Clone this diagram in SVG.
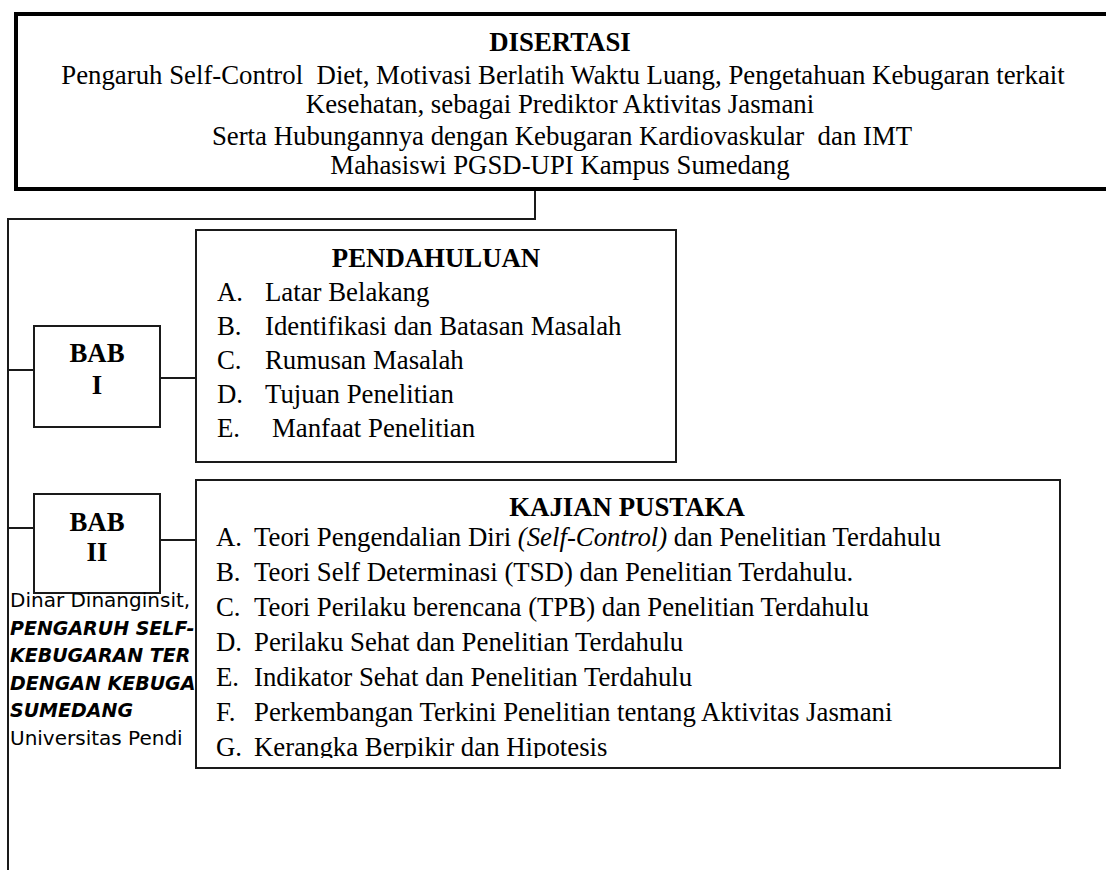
<svg xmlns="http://www.w3.org/2000/svg" width="1106" height="870" viewBox="0 0 1106 870">
<style>
.s{font-family:"Liberation Serif","Times New Roman",serif;fill:#000;font-size:26.8px}
.b{font-weight:bold}
.o{font-family:"DejaVu Sans",Verdana,sans-serif;font-size:20px;fill:#000}
.bi{font-weight:bold;font-style:italic;font-size:19px}
.box{fill:#fff;stroke:#1a1a1a;stroke-width:2}
.ln{fill:none;stroke:#1a1a1a;stroke-width:2}
</style>
<defs>
<clipPath id="kclip"><rect x="196" y="480" width="864" height="278"/></clipPath>
</defs>
<g id="top">
<path d="M1110,14 H16 V189 H1110" fill="#fff" stroke="#000" stroke-width="4"/>
<text class="s b" x="560" y="51" text-anchor="middle">DISERTASI</text>
<text class="s" x="563" y="84" text-anchor="middle" xml:space="preserve">Pengaruh Self-Control  Diet, Motivasi Berlatih Waktu Luang, Pengetahuan Kebugaran terkait</text>
<text class="s" x="560" y="113" text-anchor="middle">Kesehatan, sebagai Prediktor Aktivitas Jasmani</text>
<text class="s" x="562" y="145" text-anchor="middle" xml:space="preserve">Serta Hubungannya dengan Kebugaran Kardiovaskular  dan IMT</text>
<text class="s" x="560" y="174" text-anchor="middle">Mahasiswi PGSD-UPI Kampus Sumedang</text>
</g>
<g id="connectors">
<path class="ln" d="M535,191 V219 H8 V870"/>
<path class="ln" d="M8,370 H34"/>
<path class="ln" d="M160,378 H196"/>
<path class="ln" d="M8,528 H34"/>
<path class="ln" d="M160,540 H196"/>
</g>
<g id="bab1">
<rect class="box" x="34" y="326" width="126" height="101"/>
<text class="s b" x="97" y="362" text-anchor="middle">BAB</text>
<text class="s b" x="97" y="394" text-anchor="middle">I</text>
</g>
<g id="pendahuluan">
<rect class="box" x="196" y="230" width="480" height="232"/>
<text class="s b" x="436" y="267" text-anchor="middle">PENDAHULUAN</text>
<g class="s">
<text x="217" y="301">A.</text><text x="265" y="301">Latar Belakang</text>
<text x="217" y="335">B.</text><text x="265" y="335">Identifikasi dan Batasan Masalah</text>
<text x="217" y="369">C.</text><text x="265" y="369">Rumusan Masalah</text>
<text x="217" y="403">D.</text><text x="265" y="403">Tujuan Penelitian</text>
<text x="217" y="437">E.</text><text x="272" y="437">Manfaat Penelitian</text>
</g>
</g>
<g id="bab2">
<rect class="box" x="34" y="494" width="126" height="99"/>
<text class="s b" x="97" y="531" text-anchor="middle">BAB</text>
<text class="s b" x="97" y="561" text-anchor="middle">II</text>
</g>
<g id="note">
<text class="o" x="10" y="607">Dinar Dinanginsit,</text>
<text class="o bi" x="10" y="635">PENGARUH SELF-</text>
<text class="o bi" x="10" y="662">KEBUGARAN TER</text>
<text class="o bi" x="10" y="690">DENGAN KEBUGA</text>
<text class="o bi" x="10" y="717">SUMEDANG</text>
<text class="o" x="10" y="745">Universitas Pendi</text>
</g>
<g id="kajian">
<rect class="box" x="196" y="480" width="864" height="288"/>
<text class="s b" x="627" y="516" text-anchor="middle">KAJIAN PUSTAKA</text>
<g class="s" clip-path="url(#kclip)">
<text x="216" y="546">A.</text><text x="254" y="546">Teori Pengendalian Diri <tspan font-style="italic">(Self-Control)</tspan> dan Penelitian Terdahulu</text>
<text x="216" y="581">B.</text><text x="254" y="581">Teori Self Determinasi (TSD) dan Penelitian Terdahulu.</text>
<text x="216" y="616">C.</text><text x="254" y="616">Teori Perilaku berencana (TPB) dan Penelitian Terdahulu</text>
<text x="216" y="651">D.</text><text x="254" y="651">Perilaku Sehat dan Penelitian Terdahulu</text>
<text x="216" y="686">E.</text><text x="254" y="686">Indikator Sehat dan Penelitian Terdahulu</text>
<text x="216" y="721">F.</text><text x="254" y="721">Perkembangan Terkini Penelitian tentang Aktivitas Jasmani</text>
<text x="216" y="756">G.</text><text x="254" y="756">Kerangka Berpikir dan Hipotesis</text>
</g>
</g>
</svg>
